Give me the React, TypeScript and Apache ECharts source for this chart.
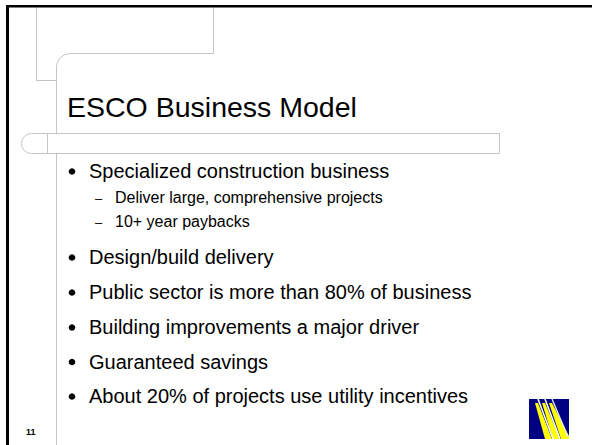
import React, { useEffect, useRef } from "react";
import * as echarts from "echarts";

const titleText = "ESCO Business Model";
const mainBullets = [
  "Specialized construction business",
  "Design/build delivery",
  "Public sector is more than 80% of business",
  "Building improvements a major driver",
  "Guaranteed savings",
  "About 20% of projects use utility incentives",
];
const mainBaselines = [178, 264, 299, 334, 368.5, 403];
const subBullets = ["Deliver large, comprehensive projects", "10+ year paybacks"];
const subBaselines = [203, 227];
const slideNumber = "11";

const FONT = '"Liberation Sans", Arial, Helvetica, sans-serif';
const GRAY = "#c4c4c4";

function textAt(x: number, baseline: number, text: string, size: number, extra: any = {}) {
  return {
    type: "text",
    x,
    y: baseline - size * 0.34,
    style: {
      text,
      fill: "#000",
      font: `${extra.weight || "normal"} ${size}px ${FONT}`,
      verticalAlign: "middle",
      align: "left",
    },
  };
}

function line(x1: number, y1: number, x2: number, y2: number, color = GRAY, w = 1) {
  return {
    type: "line",
    shape: { x1, y1, x2, y2 },
    style: { stroke: color, lineWidth: w },
  };
}

export default function App() {
  const ref = useRef<HTMLDivElement>(null);
  useEffect(() => {
    if (!ref.current) return;
    const chart = echarts.init(ref.current, undefined, { renderer: "svg" });
    const elements: any[] = [];
    elements.push({ type: "rect", shape: { x: 0, y: 0, width: 592, height: 445 }, style: { fill: "#fff" } });

    // decorative gray lines
    elements.push(line(36.5, 7, 36.5, 80.5));
    elements.push(line(36.5, 80.5, 56.5, 80.5));
    elements.push(line(213.5, 7, 213.5, 53.5));
    elements.push(line(70, 53.5, 213.5, 53.5));
    elements.push({
      type: "arc",
      shape: { cx: 70, cy: 67, r: 13.5, startAngle: Math.PI, endAngle: Math.PI * 1.5, clockwise: true },
      style: { stroke: GRAY, lineWidth: 1, fill: "none" },
    });
    elements.push(line(56.5, 67, 56.5, 133.5));
    elements.push(line(56.5, 153.5, 56.5, 445));
    elements.push({
      type: "rect",
      shape: { x: 21.5, y: 133.5, width: 478, height: 20, r: [10, 0, 0, 10] },
      style: { stroke: GRAY, lineWidth: 1, fill: "none" },
    });
    elements.push(line(47.5, 133.5, 47.5, 153.5));

    // black borders
    elements.push({ type: "rect", shape: { x: 6, y: 5, width: 586, height: 2.5 }, style: { fill: "#000" } });
    elements.push({ type: "rect", shape: { x: 6, y: 5, width: 3, height: 440 }, style: { fill: "#000" } });

    // title
    elements.push(textAt(67, 117, titleText, 28.5));

    // bullets
    mainBullets.forEach((t, i) => {
      const b = mainBaselines[i];
      elements.push({ type: "circle", shape: { cx: 72, cy: b - 6.5, r: 3.3 }, style: { fill: "#000" } });
      elements.push(textAt(89, b, t, 20));
    });
    subBullets.forEach((t, i) => {
      const b = subBaselines[i];
      elements.push(textAt(95, b, "–", 13));
      elements.push(textAt(115, b, t, 16));
    });

    // slide number
    elements.push(textAt(26, 435, slideNumber, 9, { weight: "bold" }));

    // logo
    const lx = 529, ly = 399;
    const logo: any[] = [
      { type: "rect", shape: { x: 0, y: 0, width: 40, height: 40 }, style: { fill: "#000080" } },
      { type: "polygon", shape: { points: [[6, 4], [9, 4], [23, 40], [16, 40]] }, style: { fill: "#ffff00" } },
      { type: "polygon", shape: { points: [[13, 4], [16, 4], [31, 40], [24, 40]] }, style: { fill: "#ffff00" } },
      { type: "polygon", shape: { points: [[20, 4], [23, 4], [40, 37], [40, 40], [32, 40]] }, style: { fill: "#ffff00" } },
      line(9, 0, 24, 40, "#ffffff", 1.6),
      line(16, 0, 31, 40, "#ffffff", 1.6),
      line(23, 0, 39, 38, "#dfe8ff", 1.4),
    ];
    elements.push({ type: "group", x: lx, y: ly, children: logo });

    chart.setOption({ animation: false, graphic: { elements } });
    return () => chart.dispose();
  }, []);
  return <div ref={ref} style={{ position: "fixed", left: 0, top: 0, width: 592, height: 445, background: "#fff" }} />;
}
